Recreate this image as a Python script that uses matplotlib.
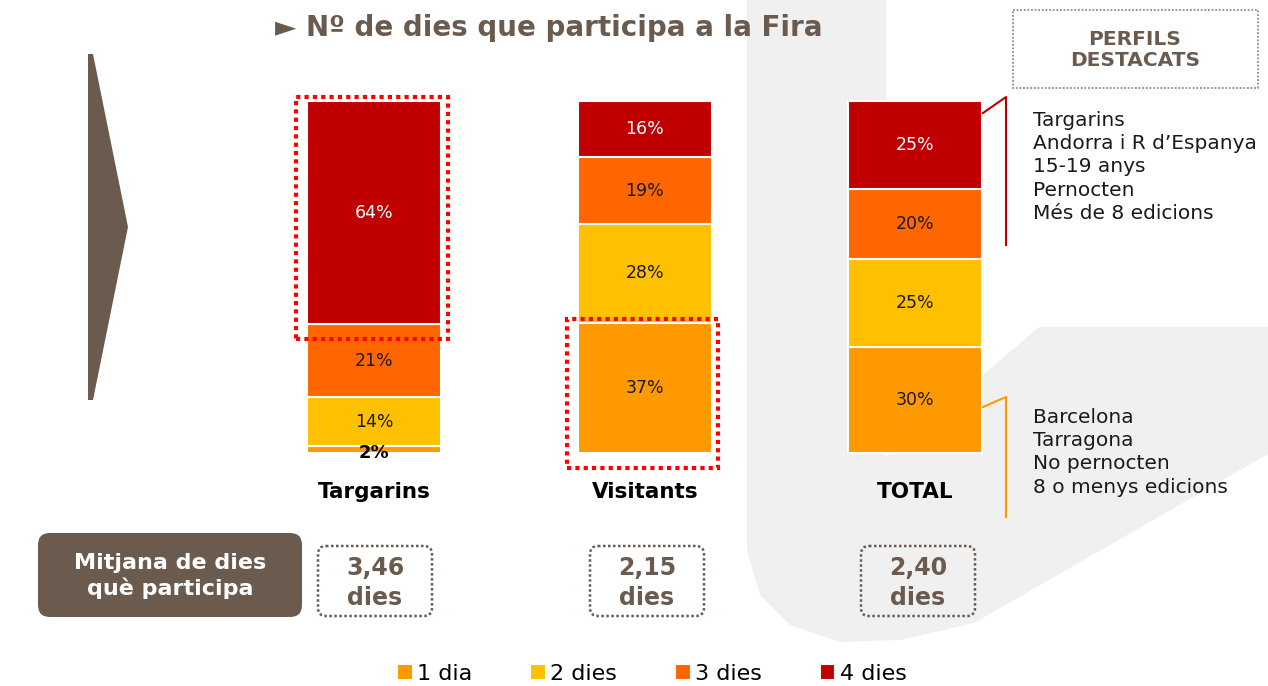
import matplotlib.pyplot as plt
from matplotlib.patches import Polygon, Rectangle, FancyBboxPatch

categories = ['Targarins', 'Visitants', 'TOTAL']
un_dia = [2, 37, 30]
dos_dies = [14, 28, 25]
tres_dies = [21, 19, 20]
quatre_dies = [64, 16, 25]
series_names = ['1 dia', '2 dies', '3 dies', '4 dies']
colors = ['#FF9900', '#FFC000', '#FF6600', '#C00000']
mitjana = ['3,46', '2,15', '2,40']
perfil_alt = ['Targarins', "Andorra i R d\u2019Espanya", '15-19 anys',
              'Pernocten', 'Més de 8 edicions']
perfil_baix = ['Barcelona', 'Tarragona', 'No pernocten', '8 o menys edicions']

brown = '#6B5B4E'
W, H = 1268, 686

fig = plt.figure(figsize=(W / 100, H / 100), dpi=100)

# background decoration, pixel coordinates
bg = fig.add_axes([0, 0, 1, 1], zorder=0)
bg.set_xlim(0, W)
bg.set_ylim(H, 0)
bg.axis('off')
shape = [(747, 0), (886, 0), (886, 457), (985, 373), (1039, 327), (1268, 327),
         (1268, 454), (974, 623), (900, 640), (840, 642), (790, 625),
         (760, 595), (747, 550)]
bg.add_patch(Polygon(shape, closed=True, color='#F0F0F0', lw=0))
bg.add_patch(Polygon([(88, 54), (93, 54), (128, 227), (93, 400), (88, 400)],
                     closed=True, color=brown, lw=0))

# 100% stacked bars
ax = fig.add_axes([239 / W, (H - 453) / H, 811.5 / W, 352 / H], zorder=2)
ax.set_xlim(-0.5, 2.5)
ax.set_ylim(0, 100)
ax.axis('off')
ax.patch.set_alpha(0)

x = list(range(len(categories)))
w = 0.495
stack = [un_dia, dos_dies, tres_dies, quatre_dies]
totals = [sum(col) for col in zip(*stack)]
bottom = [0] * len(categories)
segs = []
for k, vals in enumerate(stack):
    heights = [v / t * 100 for v, t in zip(vals, totals)]
    bars = ax.bar(x, heights, w, bottom=bottom, color=colors[k], edgecolor='white',
                  linewidth=1.5, label=series_names[k], clip_on=False)
    segs.append(bars)
    for i, v in enumerate(vals):
        if v < 5:
            ax.text(i, bottom[i] + heights[i] / 2 - 1, f'{v}%', ha='center',
                    va='center', fontsize=13, fontweight='bold', color='black')
        else:
            ax.text(i, bottom[i] + heights[i] / 2, f'{v}%', ha='center',
                    va='center', fontsize=12.5,
                    color='white' if k == 3 else '#1A1A1A')
    bottom = [b + h for b, h in zip(bottom, heights)]

for i, c in enumerate(categories):
    ax.text(i, -11, c, ha='center', va='center', fontsize=15.5,
            fontweight='heavy', color='black')

# highlighted segments
for i, k in [(0, 3), (1, 0)]:
    p = segs[k][i]
    x0 = p.get_x() - 0.04
    y0 = p.get_y() - 4.2
    ax.add_patch(Rectangle((x0, y0), p.get_width() + 0.065,
                           p.get_height() + 5.3, fill=False, edgecolor='#FF0000',
                           linewidth=3, linestyle=(0, (1, 1)), clip_on=False,
                           zorder=5))

# foreground texts and boxes, pixel coordinates
fg = fig.add_axes([0, 0, 1, 1], zorder=3)
fg.set_xlim(0, W)
fg.set_ylim(H, 0)
fg.axis('off')
fg.patch.set_alpha(0)

fg.text(275, 28, '\u25BA N\u00ba de dies que participa a la Fira', ha='left',
        va='center', fontsize=20, fontweight='bold', color=brown)

fg.add_patch(Rectangle((1013, 10), 245, 78, fill=False, edgecolor='#8C8C8C',
                       linewidth=1.3, linestyle=(0, (1, 1))))
fg.text(1135, 50, 'PERFILS\nDESTACATS', ha='center', va='center', fontsize=14.5,
        fontweight='bold', color=brown, linespacing=1.1)

fg.plot([983, 1006, 1006], [113, 97, 245], color='#C00000', lw=1.5)
fg.plot([983, 1006, 1006], [407, 397, 517], color='#FF9900', lw=1.5)
fg.text(1033, 111, '\n'.join(perfil_alt), ha='left', va='top', fontsize=14.5,
        color='#1A1A1A', linespacing=1.28)
fg.text(1033, 408, '\n'.join(perfil_baix), ha='left', va='top', fontsize=14.5,
        color='#1A1A1A', linespacing=1.28)

fg.add_patch(FancyBboxPatch((38, 533), 264, 84,
                            boxstyle='round,pad=0,rounding_size=12',
                            color=brown, lw=0))
fg.text(170, 576, 'Mitjana de dies\nquè participa', ha='center', va='center',
        fontsize=16, fontweight='bold', color='white', linespacing=1.25)

for cx, m in zip([375, 647, 918], mitjana):
    fg.add_patch(FancyBboxPatch((cx - 57, 546), 114, 70,
                                boxstyle='round,pad=0,rounding_size=8',
                                fill=False, edgecolor=brown, lw=1.8,
                                linestyle=(0, (1, 1))))
    fg.text(cx, 583, f'{m}\ndies', ha='center', va='center', fontsize=17,
            fontweight='bold', color=brown, linespacing=1.3)

handles, labels = ax.get_legend_handles_labels()
fig.legend(handles, labels, loc='center', ncol=4,
           bbox_to_anchor=(652 / W, 1 - 674 / H), frameon=False, fontsize=16,
           handlelength=0.7, handleheight=0.7, handletextpad=0.2,
           columnspacing=2.6)

fig.savefig('out.png', dpi=100)
